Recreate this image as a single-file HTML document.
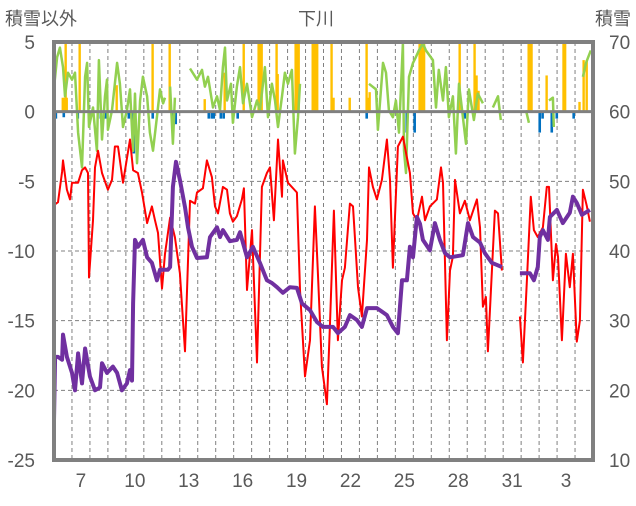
<!DOCTYPE html>
<html><head><meta charset="utf-8"><style>
body{margin:0;background:#fff;}
svg text{font-family:"Liberation Sans","Noto Sans CJK JP",sans-serif;fill:#595959;}
</style></head><body>
<svg id="chart" width="636" height="501" viewBox="0 0 636 501" xmlns="http://www.w3.org/2000/svg">
<text x="5" y="25" font-size="18">積雪以外</text>
<text x="316" y="25" font-size="18" text-anchor="middle">下川</text>
<text x="631" y="25" font-size="18" text-anchor="end">積雪</text>
<g id="grid"></g>
<g id="bars"></g>
<g id="lines"></g>
<g id="frame"></g>
<g id="ticks"></g>
</svg>
<script>
const days=[6,7,8,9,10,11,12,13,14,15,16,17,18,19,20,21,22,23,24,25,26,27,28,29,30,31,1,2,3,4];
const leftTicks=[5,0,-5,-10,-15,-20,-25];
const rightTicks=[70,60,50,40,30,20,10];
const redT=[0,0.22,0.45,0.5,0.72,0.89,1.0,1.34,1.56,1.73,1.89,1.95,2.17,2.28,2.45,2.67,3.0,3.23,3.39,3.56,3.84,4.23,4.4,4.67,4.9,5.18,5.45,5.62,5.79,6.01,6.18,6.46,6.73,7.01,7.29,7.57,7.85,7.96,8.29,8.51,8.79,8.96,9.13,9.4,9.63,9.79,9.96,10.18,10.46,10.57,10.74,11.02,11.3,11.57,11.85,12.02,12.24,12.47,12.69,12.74,13.02,13.52,13.69,13.97,14.25,14.52,14.69,14.91,15.19,15.36,15.58,15.8,16.03,16.19,16.47,16.64,16.92,17.14,17.42,17.53,17.75,17.97,18.25,18.53,18.7,18.86,19.14,19.42,19.81,19.98,20.2,20.48,20.65,20.92,21.31,21.54,21.65,21.87,22.04,22.2,22.32,22.59,22.87,23.15,23.54,23.71,23.87,24.04,24.15,24.54,24.71,24.93,25.4,25.93,26.1,26.32,26.54,26.71,26.93,27.21,27.43,27.55,27.77,27.94,28.05,28.27,28.49,28.71,28.88,29.1,29.27,29.44,29.66,29.83];
const redV=[-6.7,-6.5,-4.3,-3.5,-5.6,-6.3,-5.1,-5.1,-4.2,-4,-4.4,-11.9,-7.8,-4,-2.8,-4.4,-5.6,-4.9,-2.5,-2.5,-5.1,-2,-4.2,-4.4,-5.8,-8,-6.8,-7.8,-8.7,-12.7,-10.2,-7.6,-9,-11.6,-17.2,-6.4,-6.6,-5.8,-5.5,-3.5,-4.7,-6.8,-7.3,-5.4,-5.6,-7.3,-7.9,-7.5,-6.3,-5.5,-12.8,-8.5,-18,-5.4,-4.4,-4,-7.8,-2,-6.1,-3.5,-5.1,-5.8,-12.8,-19,-16.4,-6.8,-11.6,-18.3,-21,-15.2,-7.1,-16.4,-12.1,-11.2,-6.6,-6.8,-12.6,-14.7,-9.2,-4,-5.4,-6.3,-4.9,-2,-4.9,-11.2,-2.5,-1.8,-4.4,-7.3,-7.8,-6.1,-7.8,-6.8,-6.3,-4,-5.1,-16.4,-11.4,-10.4,-4.9,-7.3,-6.4,-7.8,-6.3,-8.3,-14,-13.3,-17.2,-7.1,-7.3,-11.4,null,-14.7,-18,-12.1,-6.1,-8.5,-9,-8.3,-5.4,-5.4,-12.1,-9.5,-10.4,-16.4,-10.2,-12.6,-10.2,-16.5,-15,-5.6,-6.8,-7.9];
const snowT=[0,0.06,0.22,0.45,0.5,0.72,1.0,1.17,1.34,1.56,1.73,2.0,2.28,2.56,2.67,2.95,3.28,3.51,3.78,4.06,4.23,4.34,4.4,4.51,4.67,4.95,5.18,5.45,5.73,5.9,6.34,6.46,6.62,6.79,7.01,7.29,7.46,7.68,7.96,8.51,8.68,9.07,9.24,9.4,9.79,10.18,10.35,10.74,11.07,11.46,11.85,12.13,12.41,12.74,13.13,13.52,13.8,14.25,14.64,14.97,15.53,15.8,16.19,16.47,16.86,17.14,17.42,17.97,18.53,18.86,19.14,19.37,19.64,19.81,19.98,20.2,20.37,20.53,20.92,21.2,21.48,21.76,22.04,22.76,23.04,23.32,23.71,23.98,24.37,24.93,25.4,25.93,26.49,26.71,26.93,27.04,27.21,27.49,27.6,27.99,28.32,28.71,28.88,29.1,29.38,29.83];
const snowV=[15.7,24.8,24.8,24.4,28,24.8,22.5,20,25.3,21,26,22,20,20.4,23.9,22.5,23.4,22.5,20,21,22.9,21.4,32.5,41.6,40.6,41.6,39.1,38.3,35.8,37.3,37.3,37.7,49.2,52.8,50.2,46.3,43.4,40.6,39,39.1,42,43.4,42,43,41.4,41.6,42.7,39.1,40.6,38.3,35.8,35.4,34.8,34,34.8,34.7,32.5,31.5,29.8,29.1,29.1,28.2,29.1,30.8,30.1,29.1,31.8,31.8,30.8,29.1,28.2,35.8,35.8,40.6,39.1,44.9,43.9,41.6,40.1,44,41.6,39.7,39.1,39.4,44,42,41.2,39.7,38.3,37.7,null,36.8,36.8,35.8,37.7,42,43,41.6,44.9,45.9,44,45.5,47.8,46.9,45.2,45.9];
const greenT=[0,0.17,0.33,0.5,0.61,0.78,1.0,1.17,1.34,1.56,1.73,1.84,1.95,2.17,2.39,2.5,2.67,2.84,2.95,3.0,3.23,3.51,3.67,3.84,4.06,4.23,4.4,4.51,4.62,4.79,4.95,5.18,5.34,5.51,5.73,5.9,6.07,6.18,6.3,6.46,6.62,6.73,7.1,7.57,7.96,8.24,8.4,8.57,8.85,9.07,9.24,9.4,9.52,9.63,9.85,9.96,10.18,10.35,10.52,10.74,11.02,11.3,11.46,11.74,11.91,12.13,12.3,12.47,12.69,12.85,13.02,13.24,13.41,13.58,13.69,15,17.53,17.92,18.03,18.31,18.48,18.64,18.86,19.03,19.2,19.42,19.48,19.59,19.76,19.98,20.14,20.31,20.53,20.7,21.09,21.26,21.42,21.65,21.81,21.98,22.2,22.37,22.54,22.76,22.93,23.09,23.37,23.59,23.87,24.1,24.43,24.71,24.87,25.5,26.27,26.43,27,27.55,27.77,27.82,28.5,29.44,29.61,29.88];
const greenV=[1.7,3.9,4.6,3.2,1.1,2.8,2.3,2.8,-1.5,-4,2.5,3.5,-1.1,0.3,-2.8,3.7,-2,1.1,2.3,-1.3,0.1,3.5,2,-1.1,0.1,1.6,-2.8,1.3,-3.7,0.8,2.5,1.1,-1.5,-2.8,-0.4,1.6,0.6,1.0,null,1.8,-2.3,1.0,null,3.1,2.3,3,1.8,2.5,0.3,1.1,0.1,3.2,4.6,0.8,2,-0.8,1.8,3.2,0.6,2,-0.4,0.8,0.1,3.2,-0.4,2,0.8,-1.1,1.1,2.8,2,3,-3,-0.4,2,null,2,1.6,-1.3,3.5,2.8,0.1,-0.4,0.8,-1.5,4.9,-2.8,-4.4,2.5,3.5,3.9,4.4,4.9,4.4,3.7,0.3,3,0.8,3.2,-0.4,1.1,-3,2,-0.4,-2.3,1.6,-0.6,1.3,0.6,null,0.3,1.1,-0.6,null,0.1,-0.8,null,0.8,1.0,-1.1,null,2.5,3.5,4.4];
const orangeT=[0.45,0.53,0.61,0.67,1.39,3.45,5.45,6.4,8.35,9.46,10.52,11.35,11.43,11.52,12.35,12.41,13.41,13.49,13.58,14.36,14.44,14.52,14.61,15.41,15.52,16.42,17.36,17.45,17.53,20.31,20.39,20.48,20.56,22.54,23.37,23.48,23.59,26.38,26.46,26.54,27.38,28.32,28.41,29.21,29.44,29.61];
const orangeV=[1,1,5,1,5,1.9,5,5,0.9,2.8,5,5,5,5,5,2.7,5,5,5,5,5,5,5,5,1,1,5,1,1.4,5,5,5,5,5,5,2.6,1.5,5,5,5,2.6,5,5,0.7,3.7,3.7];
const blueT=[0.06,0.5,1.28,2.56,2.84,4.12,4.4,5.45,6.57,6.73,8.57,8.74,8.85,9.24,9.4,10.18,17.36,19.59,20.03,22.82,26.99,27.15,27.66,27.94,28.88];
const blueV=[-0.5,-0.4,-0.5,-0.5,-0.5,-0.5,-3,-0.5,-0.5,-0.9,-0.5,-0.5,-0.5,-0.5,-0.5,-0.5,-0.5,-1.5,-1.5,-0.5,-1.5,-0.5,-1.5,-0.5,-0.5];

const NS='http://www.w3.org/2000/svg';
const X0=54,X1=593,Y0=42,Y1=460;
const dayW=(X1-X0)/days.length;
const xT=t=>X0+t*dayW;
const yL=v=>Y0+(5-v)*(Y1-Y0)/30;
const yR=c=>Y0+(70-c)*(Y1-Y0)/60;
function mk(tag,attrs,parent){const e=document.createElementNS(NS,tag);for(const k in attrs)e.setAttribute(k,attrs[k]);parent.appendChild(e);return e;}
const grid=document.getElementById('grid'),bars=document.getElementById('bars'),lines=document.getElementById('lines'),frame=document.getElementById('frame'),ticks=document.getElementById('ticks');
// horizontal gridlines
leftTicks.forEach(v=>{if(v<5&&v>-25&&v!==0){const l=mk('line',{x1:X0,x2:X1,y1:yL(v),y2:yL(v),stroke:'#808080','stroke-width':1,'stroke-dasharray':'4,3'},grid);

}});
for(let i=1;i<days.length;i++){const l=mk('line',{x1:xT(i),x2:xT(i),y1:Y0,y2:Y1,stroke:'#808080','stroke-width':1,'stroke-dasharray':'4,3'},grid);

}
// bars
orangeT.forEach((t,i)=>{const y=yL(orangeV[i]);const r=mk('rect',{x:xT(t)-0.5,y:y,width:2.4,height:yL(0)-y,fill:'#FFC000'},bars);

});
blueT.forEach((t,i)=>{const y=yL(blueV[i]);const r=mk('rect',{x:xT(t)-0.5,y:yL(0),width:2.6,height:y-yL(0),fill:'#0070C0'},bars);

});
function path(T,V,yf){let d='',pen=false;T.forEach((t,i)=>{const v=V[i];if(v===null){pen=false;return;}d+=(pen?'L':'M')+xT(t).toFixed(1)+','+yf(v).toFixed(1);pen=true;});return d;}
const g=mk('path',{d:path(greenT,greenV,yL),fill:'none',stroke:'#92D050','stroke-width':2.5,'stroke-linejoin':'round'},lines);


const r=mk('path',{d:path(redT,redV,yL),fill:'none',stroke:'#FF0000','stroke-width':2,'stroke-linejoin':'round'},lines);


const p=mk('path',{d:path(snowT,snowV,yR),fill:'none',stroke:'#7030A0','stroke-width':4,'stroke-linejoin':'round'},lines);


// frame
const fr=mk('rect',{x:X0,y:Y0,width:X1-X0,height:Y1-Y0,fill:'none',stroke:'#808080','stroke-width':4},frame);


const z=mk('line',{x1:X0,x2:X1,y1:yL(0),y2:yL(0),stroke:'#808080','stroke-width':3},frame);


// ticks
leftTicks.forEach(v=>{const t=mk('text',{x:35,y:yL(v)+7,'font-size':19,'text-anchor':'end'},ticks);t.textContent=v;

});
rightTicks.forEach(v=>{const t=mk('text',{x:609,y:yR(v)+7,'font-size':19},ticks);t.textContent=v;

});
days.forEach((d,i)=>{if(i%3===1){const t=mk('text',{x:xT(i+0.5),y:487,'font-size':19,'text-anchor':'middle'},ticks);t.textContent=d;

}});
</script>
</body></html>
